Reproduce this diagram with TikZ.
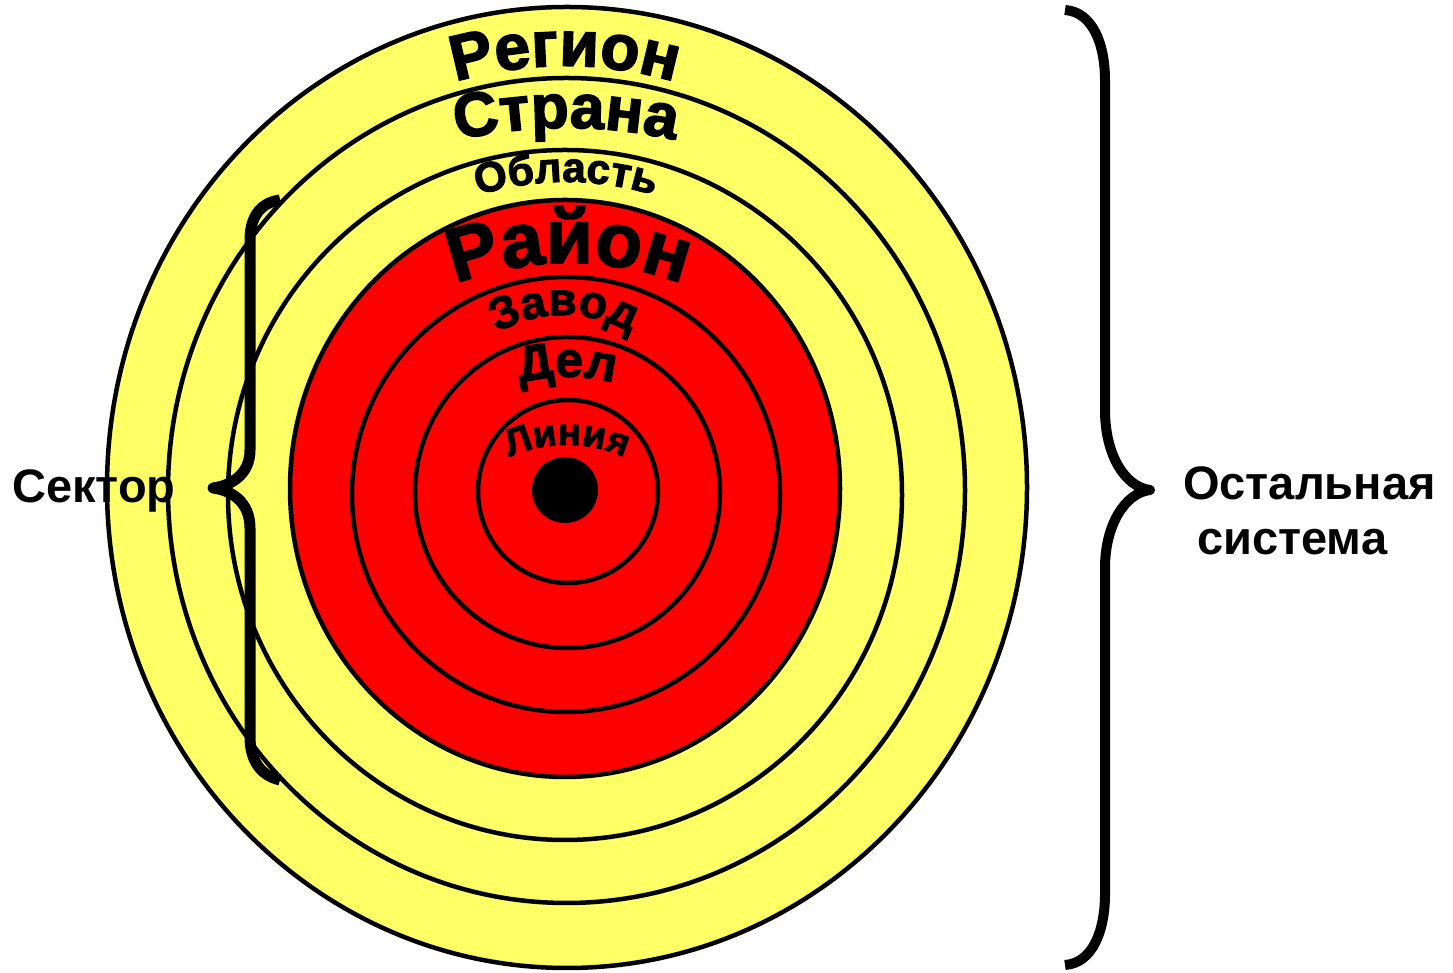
\documentclass[tikz,border=0pt]{standalone}
\usepackage{fontspec}
\setmainfont{Liberation Sans}
\newfontfamily\ringfont{Liberation Sans}[BoldFeatures={FakeBold=2.5}]
\usetikzlibrary{decorations.text}
\definecolor{ringyellow}{HTML}{FFFF66}
\definecolor{ringred}{HTML}{FF0000}
\newcommand{\arclabel}[5]{%
  \path[decorate, decoration={text along path, text align=center,
      text={|\ringfont\bfseries\fontsize{#4}{#4}\selectfont|#5}}]
    ([shift={(#1,#2-#3)}]160:#3) arc[start angle=160, end angle=20, radius=#3];}
\begin{document}
\begin{tikzpicture}[x=1pt,y=1pt,
  ring/.style={draw=black, line width=4.5pt},
  bracestroke/.style={draw=black, line width=10pt, line join=round},
  sidelabel/.style={font=\bfseries\fontsize{47}{54}\selectfont, inner sep=0pt},
]
\useasboundingbox (0,0) rectangle (1453,973);
% rings
\path[ring, fill=ringyellow] (567,485.5) ellipse[x radius=460, y radius=480.5];
\path[ring, fill=ringyellow] (566.5,482.5) ellipse[x radius=398.5, y radius=412.5];
\path[ring, fill=ringyellow] (565,478) ellipse[x radius=337, y radius=345];
\path[ring, fill=ringred] (565,484.5) ellipse[x radius=275, y radius=288.5];
\path[ring, fill=ringred] (566,478.5) ellipse[x radius=214, y radius=217.5];
\path[ring, fill=ringred] (567.5,480.5) ellipse[x radius=152.5, y radius=155.5];
\path[ring, fill=ringred] (568,481.5) ellipse[x radius=90, y radius=91.5];
\path[fill=black] (565,483) circle[radius=33];
% ring labels
\arclabel{565}{907}{390}{64}{Регион}
\arclabel{566}{845}{500}{62}{Страна}
\arclabel{566}{791}{300}{42}{Область}
\arclabel{569}{710}{320}{76}{Район}
\arclabel{564}{658}{135}{46}{Завод}
\arclabel{567}{596}{190}{50}{Дел}
\arclabel{567}{528}{140}{38}{Линия}
% left brace (sector)
\path[bracestroke, line width=11pt]
  (280,773) .. controls (258,770) and (250,753) .. (250,733) -- (250,523)
  .. controls (250,498) and (230,487) .. (213,485)
  .. controls (230,483) and (250,472) .. (250,445) -- (250,236)
  .. controls (250,216) and (258,198) .. (280,193);
% right brace (rest of system)
\path[bracestroke]
  (1065,963) .. controls (1093,961) and (1105,928) .. (1105,893) -- (1105,563)
  .. controls (1105,518) and (1125,486) .. (1150,483)
  .. controls (1125,480) and (1105,448) .. (1105,405) -- (1105,79)
  .. controls (1105,43) and (1093,10) .. (1065,8);
% side labels
\node[sidelabel, anchor=base west] (sector) at (12,470) {Сектор};
\node[sidelabel, anchor=base west] (rest1) at (1183,473) {Остальная};
\node[sidelabel, anchor=base west] (rest2) at (1197,418) {система};
\end{tikzpicture}
\end{document}
